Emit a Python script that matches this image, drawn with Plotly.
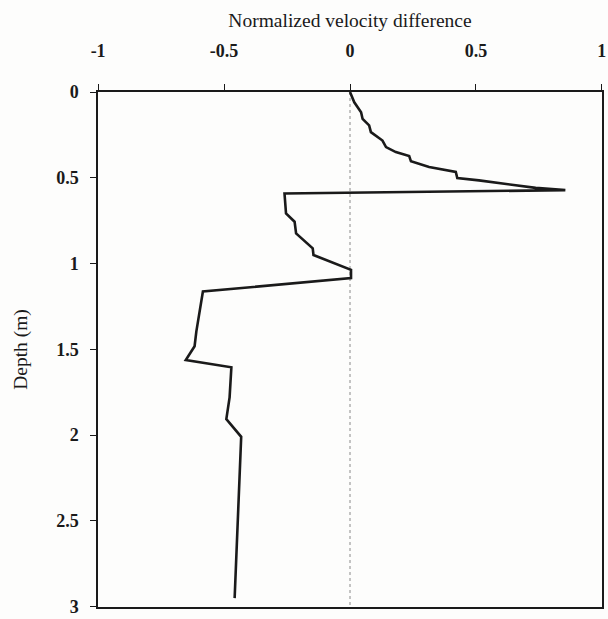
import plotly.graph_objects as go

velocity_diff = [0.0, 0.017, 0.044, 0.05, 0.076, 0.083, 0.129, 0.143, 0.182, 0.235, 0.242,
                 0.314, 0.42, 0.426, 0.512, 0.644, 0.737, 0.855,
                 -0.26, -0.254, -0.22, -0.214, -0.148, -0.145, 0.004, 0.004,
                 -0.584, -0.61, -0.617, -0.652, -0.471, -0.478, -0.491, -0.432, -0.445, -0.458]
depth = [0.0, 0.06, 0.118, 0.157, 0.195, 0.234, 0.283, 0.321, 0.35, 0.373, 0.404,
         0.437, 0.466, 0.501, 0.515, 0.54, 0.559, 0.572,
         0.592, 0.708, 0.756, 0.824, 0.911, 0.95, 1.037, 1.085,
         1.163, 1.395, 1.482, 1.563, 1.605, 1.78, 1.907, 2.01, 2.497, 2.95]

x_ticks = [-1, -0.5, 0, 0.5, 1]
x_tick_labels = ["-1", "-0.5", "0", "0.5", "1"]
y_ticks = [0, 0.5, 1, 1.5, 2, 2.5, 3]
y_tick_labels = ["0", "0.5", "1", "1.5", "2", "2.5", "3"]

serif = "Liberation Serif"
ink = "#1a1a1a"

fig = go.Figure()
fig.add_trace(go.Scatter(x=[0, 0], y=[0, 3], mode="lines",
                         line=dict(color="#8a8a8a", width=1, dash="dot"),
                         hoverinfo="skip", showlegend=False))
fig.add_trace(go.Scatter(x=velocity_diff, y=depth, mode="lines",
                         line=dict(color=ink, width=2.6), showlegend=False))

fig.update_layout(
    width=608, height=619,
    margin=dict(l=98, r=6, t=92, b=12),
    paper_bgcolor="#fdfdfc", plot_bgcolor="#fdfdfc",
    font=dict(family=serif, color=ink),
    xaxis=dict(range=[-1.0005, 1.0005], side="top", tickvals=x_ticks, ticktext=x_tick_labels,
               ticks="outside", ticklen=6, tickwidth=1.2, tickcolor=ink,
               showline=True, linecolor=ink, linewidth=1.5, mirror=True,
               showgrid=False, zeroline=False, automargin=False,
               ticklabeloverflow="allow",
               tickfont=dict(family=serif, size=18, color=ink, weight="bold"),
               ticklabelstandoff=20,
               title=dict(text="Normalized velocity difference", standoff=8,
                          font=dict(family=serif, size=19.5, color=ink))),
    xaxis2=dict(range=[-1.0005, 1.0005], overlaying="x", side="top", tickvals=x_ticks,
                ticks="inside", ticklen=7, tickwidth=1.2, tickcolor=ink, automargin=False,
                showticklabels=False, showgrid=False, zeroline=False, showline=False),
    yaxis=dict(range=[3.002, 0], tickvals=y_ticks, ticktext=y_tick_labels,
               ticks="outside", ticklen=6, tickwidth=1.2, tickcolor=ink,
               showline=True, linecolor=ink, linewidth=1.5, mirror=True,
               showgrid=False, zeroline=False, automargin=False,
               ticklabeloverflow="allow",
               tickfont=dict(family=serif, size=18, color=ink, weight="bold"),
               ticklabelstandoff=8,
               title=dict(text="Depth (m)", standoff=23,
                          font=dict(family=serif, size=19.5, color=ink))),
    yaxis2=dict(range=[3.002, 0], overlaying="y", tickvals=y_ticks, automargin=False,
                ticks="inside", ticklen=7, tickwidth=1.2, tickcolor=ink,
                showticklabels=False, showgrid=False, zeroline=False, showline=False),
)

fig.write_html("out.html")
